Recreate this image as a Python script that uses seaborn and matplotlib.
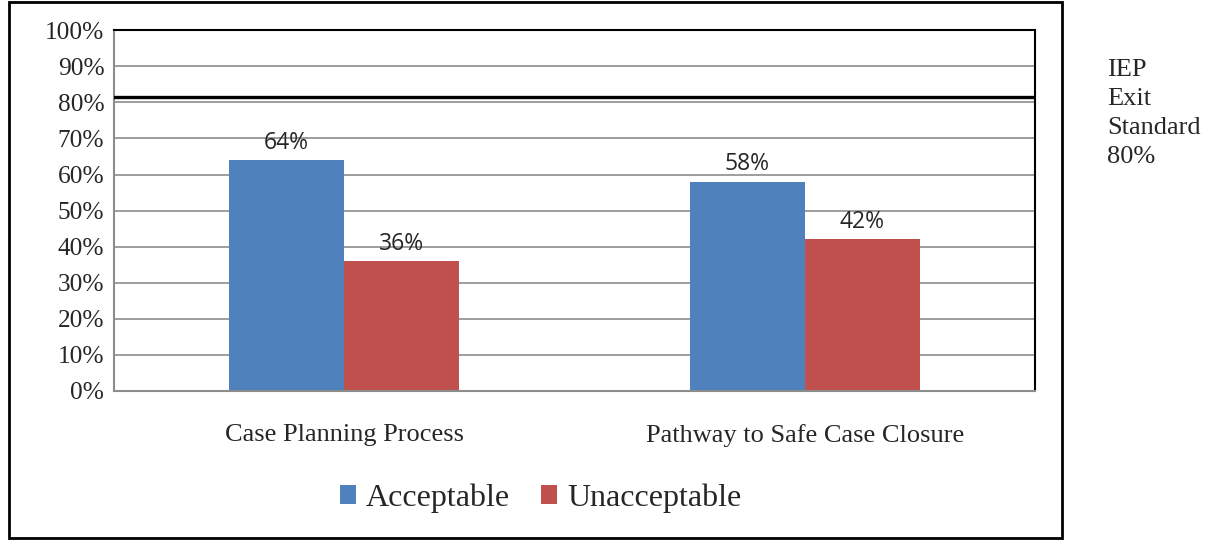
import pandas as pd
import matplotlib
matplotlib.use("Agg")
import matplotlib.pyplot as plt
import seaborn as sns
from matplotlib.patches import Rectangle
from matplotlib.ticker import PercentFormatter

# data
categories = ["Case Planning Process", "Pathway to Safe Case Closure"]
groups = ["Acceptable", "Unacceptable"]
acceptable = [64, 58]
unacceptable = [36, 42]
standard_label = "IEP\nExit\nStandard\n80%"
standard_line = 81.5  # where the thick line sits in the picture

colors = ["#4F81BD", "#C0504D"]

df = pd.DataFrame({
    "category": categories * 2,
    "group": [groups[0]] * 2 + [groups[1]] * 2,
    "value": acceptable + unacceptable,
})

sns.set_style("white")
plt.rcParams["font.family"] = ["Liberation Serif", "DejaVu Serif"]

fig = plt.figure(figsize=(12.09, 5.4), dpi=100)
ax = fig.add_axes([0.0943, 0.276, 0.7618, 0.668])

sns.barplot(data=df, x="category", y="value", hue="group", order=categories,
            hue_order=groups, palette=colors, width=0.5, gap=0, saturation=1,
            linewidth=0, ax=ax)

ax.set_xlim(-0.5, 1.5)
ax.set_ylim(0, 100)
ax.set_yticks(range(0, 101, 10))
ax.yaxis.set_major_formatter(PercentFormatter(decimals=0))
ax.yaxis.grid(True, color="#8c8c8c", linewidth=1.2)
ax.set_axisbelow(True)
ax.tick_params(axis="y", labelsize=18.3, length=0, pad=7)
ax.tick_params(axis="x", labelsize=19, length=0, pad=24)
ax.set_xlabel("")
ax.set_ylabel("")

for side in ["left", "bottom"]:
    ax.spines[side].set_color("#8c8c8c")
    ax.spines[side].set_linewidth(1.5)
for side in ["top", "right"]:
    ax.spines[side].set_color("black")
    ax.spines[side].set_linewidth(1.5)

ax.axhline(standard_line, color="black", linewidth=2.4, zorder=3)

for cont in ax.containers:
    ax.bar_label(cont, labels=[f"{v:.0f}%" for v in cont.datavalues],
                 fontsize=16.5, family=["Open Sans", "DejaVu Sans"], padding=4)

handles, labels = ax.get_legend_handles_labels()
ax.legend(handles, labels, loc="center", bbox_to_anchor=(0.447, 1 - 498 / 540),
          bbox_transform=fig.transFigure, ncol=2, frameon=False, fontsize=23,
          handlelength=0.5, handleheight=0.5, handletextpad=0.3, columnspacing=1.0)

fig.text(1107 / 1209, 1 - 59 / 540, standard_label, fontsize=19, va="top",
         ha="left", linespacing=1.42)

fig.add_artist(Rectangle((9 / 1209, 2 / 540), 1053 / 1209, 536 / 540,
                         transform=fig.transFigure, fill=False,
                         edgecolor="black", linewidth=2))

fig.savefig("out.png", dpi=100)
